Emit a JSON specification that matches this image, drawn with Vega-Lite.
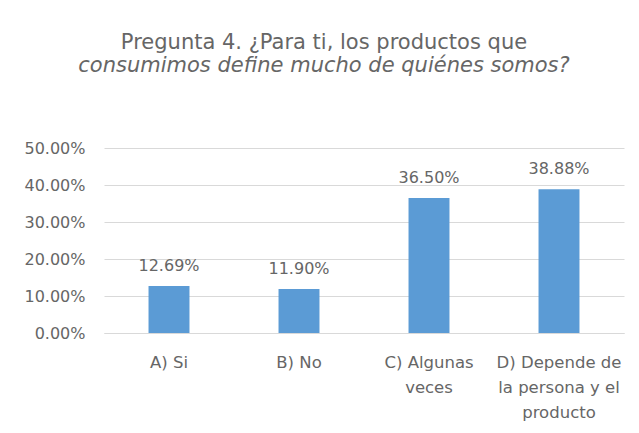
{
  "$schema": "https://vega.github.io/schema/vega-lite/v6.json",
  "autosize": {"type": "none"},
  "padding": {"left": 104, "top": 148, "right": 15, "bottom": 100},
  "width": 520,
  "height": 185,
  "background": "white",
  "title": {
    "text": "Pregunta 4. ¿Para ti, los productos que",
    "subtitle": "consumimos define mucho de quiénes somos?",
    "anchor": "middle",
    "frame": "bounds",
    "font": "DejaVu Sans",
    "fontSize": 21,
    "fontWeight": "normal",
    "color": "#666666",
    "subtitleFont": "DejaVu Sans",
    "subtitleFontSize": 21,
    "subtitleFontStyle": "italic",
    "subtitleColor": "#666666",
    "subtitlePadding": 2,
    "offset": 64
  },
  "data": {
    "values": [
      {"respuesta": "A) Si", "porcentaje": 0.1269},
      {"respuesta": "B) No", "porcentaje": 0.1190},
      {"respuesta": "C) Algunas veces", "porcentaje": 0.3650},
      {"respuesta": "D) Depende de la persona y el producto", "porcentaje": 0.3888}
    ]
  },
  "encoding": {
    "x": {
      "field": "respuesta",
      "type": "nominal",
      "sort": null,
      "scale": {"paddingInner": 0.685, "paddingOuter": 0.3425},
      "axis": {
        "title": null,
        "labelAngle": 0,
        "ticks": false,
        "domain": true,
        "domainColor": "#D9D9D9",
        "labelFont": "DejaVu Sans",
        "labelFontSize": 16.5,
        "labelColor": "#666666",
        "labelPadding": 21,
        "labelLineHeight": 25,
        "labelExpr": "datum.value == 'C) Algunas veces' ? ['C) Algunas', 'veces'] : datum.value == 'D) Depende de la persona y el producto' ? ['D) Depende de', 'la persona y el', 'producto'] : datum.value"
      }
    },
    "y": {
      "field": "porcentaje",
      "type": "quantitative",
      "scale": {"domain": [0, 0.5], "nice": false},
      "axis": {
        "title": null,
        "values": [0, 0.1, 0.2, 0.3, 0.4, 0.5],
        "format": ".2%",
        "domain": false,
        "ticks": false,
        "gridColor": "#D9D9D9",
        "labelFont": "DejaVu Sans",
        "labelFontSize": 16,
        "labelColor": "#666666",
        "labelPadding": 19
      }
    }
  },
  "layer": [
    {"mark": {"type": "bar", "color": "#5B9BD5"}},
    {
      "mark": {"type": "text", "dy": -15, "baseline": "alphabetic", "font": "DejaVu Sans", "fontSize": 16, "color": "#666666"},
      "encoding": {"text": {"field": "porcentaje", "type": "quantitative", "format": ".2%"}}
    }
  ],
  "config": {"view": {"stroke": null}}
}
